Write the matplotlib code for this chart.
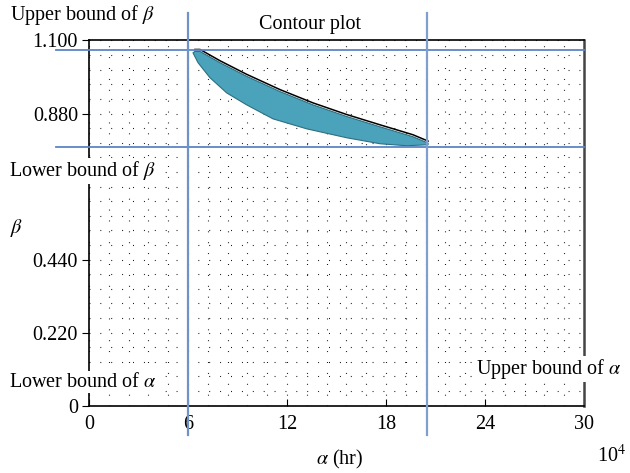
import matplotlib
matplotlib.use("Agg")
import matplotlib.pyplot as plt
import matplotlib.transforms as mtransforms
from matplotlib.ticker import MultipleLocator
import numpy as np

# ---- data ----
x_ticks = [0, 6, 12, 18, 24, 30]
y_ticks = [0, 0.22, 0.44, 0.88, 1.10]
y_tick_labels = ["0", "0.220", "0.440", "0.880", "1.100"]

alpha_lower = 6.0
alpha_upper = 20.5
beta_lower = 0.78
beta_upper = 1.07

# contour region (upper edge left->right, lower edge right->left)
upper_alpha = [6.42, 6.73, 7.94, 9.56, 11.58, 13.58, 15.62, 17.64, 19.64, 20.55]
upper_beta = [1.067, 1.067, 1.033, 0.992, 0.946, 0.906, 0.871, 0.840, 0.810, 0.791]
lower_alpha = [20.55, 19.25, 17.64, 15.62, 13.19, 11.15, 9.56, 8.35, 7.33, 6.61, 6.30]
lower_beta = [0.786, 0.783, 0.789, 0.807, 0.834, 0.864, 0.906, 0.942, 0.988, 1.033, 1.063]

plt.rcParams["font.family"] = ["Liberation Serif", "DejaVu Serif"]
plt.rcParams["mathtext.fontset"] = "stix"

W, H = 630, 473
fig = plt.figure(figsize=(6.3, 4.73), dpi=100)
ax = fig.add_axes([89 / W, 1 - 405.7 / H, (584 - 89) / W, (405.7 - 40.5) / H])
ax.set_xlim(0, 30)
ax.set_ylim(0, 1.1)

# dotted grid
ax.xaxis.set_minor_locator(MultipleLocator(1.2))
ax.yaxis.set_minor_locator(MultipleLocator(0.044))
ax.grid(which="both", axis="both", color="black", linestyle=(0, (0.8, 9)), linewidth=0.8)
ax.set_axisbelow(True)

# contour fill
poly_x = upper_alpha + lower_alpha
poly_y = upper_beta + lower_beta
ax.fill(poly_x, poly_y, facecolor="#4aa3bb", edgecolor="#2f6f80", linewidth=0.8, zorder=3)
offset = mtransforms.offset_copy(ax.transData, fig=fig, x=0, y=2.0, units="dots")
ax.plot(upper_alpha, upper_beta, color="black", linewidth=1.1, transform=offset, zorder=4)

# bound lines
line_col = "#5b86c4"
ax.plot([-2.0, 30], [beta_upper, beta_upper], color=line_col, lw=1.3, clip_on=False, zorder=5)
ax.plot([-2.0, 30], [beta_lower, beta_lower], color=line_col, lw=1.3, clip_on=False, zorder=5)
ax.plot([alpha_lower, alpha_lower], [-0.088, 1.183], color="#6f93c6", lw=1.6, clip_on=False, zorder=5)
ax.plot([alpha_upper, alpha_upper], [-0.088, 1.183], color="#7f9fcc", lw=1.6, clip_on=False, zorder=5)

# spines and ticks
for s in ["left", "bottom", "top"]:
    ax.spines[s].set_color("black")
    ax.spines[s].set_linewidth(1.2)
ax.spines["right"].set_color("#444444")
ax.spines["right"].set_linewidth(1.8)

fs = 14.5
ax.set_xticks(x_ticks)
ax.set_xticklabels([str(v) for v in x_ticks])
ax.set_yticks(y_ticks)
ax.set_yticklabels(y_tick_labels)
ax.tick_params(axis="x", which="major", direction="in", length=5, labelsize=fs, pad=7)
ax.tick_params(axis="y", which="major", direction="out", length=5, labelsize=fs, pad=3)
ax.tick_params(which="minor", length=0)

# texts
def ftxt(x, y, s, ha="left", bg=False, **kw):
    bbox = dict(facecolor="white", edgecolor="none", pad=1.0) if bg else None
    fig.text(x / W, 1 - y / H, s, ha=ha, va="center", fontsize=fs, bbox=bbox, zorder=10, **kw)

ftxt(10, 15, r"Upper bound of $\beta$")
ftxt(310, 25, "Contour plot", ha="center")
ftxt(9, 171, r"Lower bound of $\beta$", bg=True)
ftxt(10, 228, r"$\beta$")
ftxt(9, 382, r"Lower bound of $\alpha$", bg=True)
ftxt(476, 369, r"Upper bound of $\alpha$", bg=True)
ftxt(340, 459, r"$\alpha$ (hr)", ha="center")
ftxt(597, 456, r"10$^4$")

fig.savefig("out.png", dpi=100)
